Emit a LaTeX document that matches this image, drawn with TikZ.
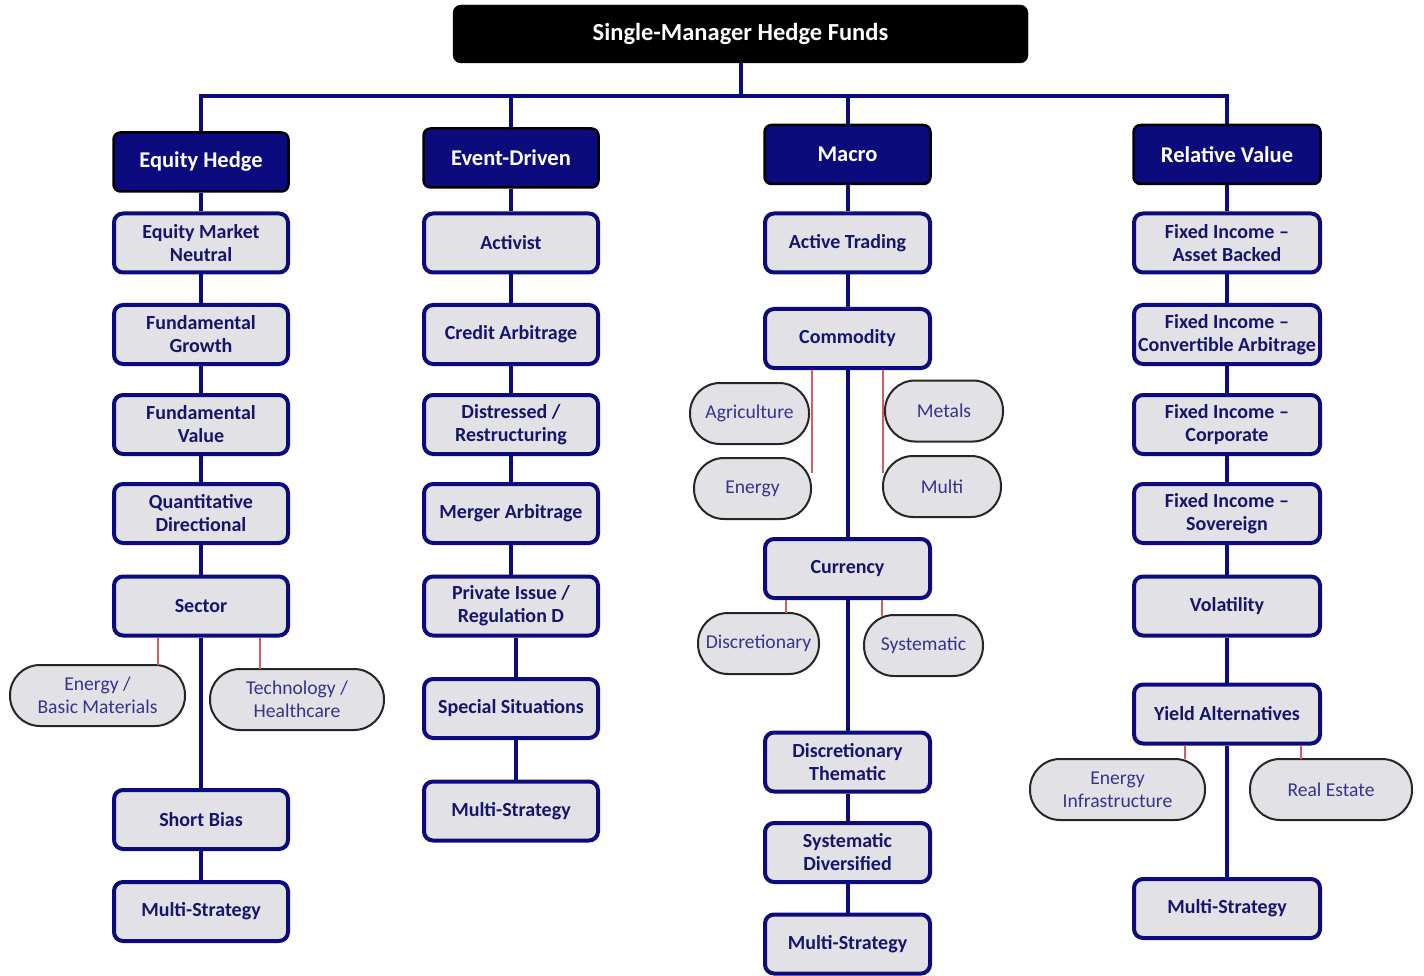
\documentclass[tikz,border=0pt]{standalone}
\usepackage{fontspec}
\setmainfont{Carlito}
\definecolor{navy}{HTML}{0B0B7E}
\definecolor{boxgray}{HTML}{E1E1E6}
\definecolor{txtnavy}{HTML}{15156E}
\definecolor{ovtxt}{HTML}{34348E}
\definecolor{redline}{HTML}{D06060}
\begin{document}
\begin{tikzpicture}[x=1pt,y=-1pt,
 topbox/.style={fill=black, rounded corners=8, draw=black, text=white, font=\bfseries\fontsize{24.5}{28}\selectfont, minimum width=575, minimum height=58, inner sep=0},
 hdr/.style={fill=navy, draw=black, line width=2.5, rounded corners=7, text=white, font=\bfseries\fontsize{22.5}{26}\selectfont, minimum height=59, inner sep=0, align=center},
 sub/.style={fill=boxgray, draw=navy, line width=4, rounded corners=9, text=txtnavy, font=\bfseries\fontsize{20}{23}\selectfont, minimum height=59, inner sep=0, align=center},
 oval/.style={fill=boxgray, draw=black!85, line width=2, rounded corners=30, text=ovtxt, font=\fontsize{19.6}{23}\selectfont, minimum height=61, inner sep=0, align=center},
 cA/.style={sub, minimum width=174},
 cB/.style={sub, minimum width=174},
 cC/.style={sub, minimum width=165},
 cD/.style={sub, minimum width=186},
 conn/.style={draw=navy, line width=4, line join=miter},
 redc/.style={draw=redline, line width=1.5}]
\useasboundingbox (0,0) rectangle (1424,976);
\fill[white] (0,0) rectangle (1424,976);

% root and headers
\node[topbox] (root) at (740.5,34) {Single-Manager Hedge Funds};
\node[hdr, minimum width=175] (eh) at (201,162) {Equity Hedge};
\node[hdr, minimum width=175] (ed) at (511,158) {Event-Driven};
\node[hdr, minimum width=166] (ma) at (847.5,154.5) {Macro};
\node[hdr, minimum width=187] (rv) at (1227,154.5) {Relative Value};

% column 1
\node[cA] (a1) at (201,243) {Equity Market\\Neutral};
\node[cA] (a2) at (201,334.5) {Fundamental\\Growth};
\node[cA] (a3) at (201,424.5) {Fundamental\\Value};
\node[cA] (a4) at (201,513.5) {Quantitative\\Directional};
\node[cA] (a5) at (201,606) {Sector};
\node[cA] (a6) at (201,819.5) {Short Bias};
\node[cA] (a7) at (201,911.5) {Multi-Strategy};
\node[oval, minimum width=175] (ebm) at (97.5,695.5) {Energy /\\Basic Materials};
\node[oval, minimum width=174] (th) at (297,699.5) {Technology /\\Healthcare};

% column 2
\node[cB] (b1) at (511,243) {Activist};
\node[cB] (b2) at (511,334.5) {Credit Arbitrage};
\node[cB] (b3) at (511,424.5) {Distressed /\\Restructuring};
\node[cB] (b4) at (511,513.5) {Merger Arbitrage};
\node[cB] (b5) at (511,606) {Private Issue /\\Regulation D};
\node[cB] (b6) at (511,708.5) {Special Situations};
\node[cB] (b7) at (511,811) {Multi-Strategy};

% column 3
\node[cC] (m1) at (847.5,243) {Active Trading};
\node[cC] (m2) at (847.5,338.5) {Commodity};
\node[oval, minimum width=119] (agr) at (749.5,413.5) {Agriculture};
\node[oval, minimum width=117] (ene) at (752.5,488.5) {Energy};
\node[oval, minimum width=118] (met) at (944,411) {Metals};
\node[oval, minimum width=118] (mul) at (942,486.5) {Multi};
\node[cC] (m3) at (847.5,568.5) {Currency};
\node[oval, minimum width=121] (dis) at (758.5,643.5) {Discretionary};
\node[oval, minimum width=119] (sys) at (923.5,645.5) {Systematic};
\node[cC] (m4) at (847.5,762) {Discretionary\\Thematic};
\node[cC] (m5) at (847.5,852.5) {Systematic\\Diversified};
\node[cC] (m6) at (847.5,944) {Multi-Strategy};

% column 4
\node[cD] (r1) at (1227,243) {Fixed Income --\\Asset Backed};
\node[cD] (r2) at (1227,334.5) {Fixed Income --\\Convertible Arbitrage};
\node[cD] (r3) at (1227,424.5) {Fixed Income --\\Corporate};
\node[cD] (r4) at (1227,513.5) {Fixed Income --\\Sovereign};
\node[cD] (r5) at (1227,606) {Volatility};
\node[cD] (r6) at (1227,714) {Yield Alternatives};
\node[oval, minimum width=175] (ei) at (1117.5,789.5) {Energy\\Infrastructure};
\node[oval, minimum width=162] (re) at (1331,789.5) {Real Estate};
\node[cD] (r7) at (1227,908.5) {Multi-Strategy};

% bus
\coordinate (j0) at (740.5,96);
\draw[conn] (root.south) -- (j0);
\draw[conn] (eh.north) -- (eh.north |- j0) -- (rv.north |- j0) -- (rv.north);
\draw[conn] (ed.north) -- (ed.north |- j0);
\draw[conn] (ma.north) -- (ma.north |- j0);

% vertical connectors
\draw[conn] (eh.south) -- (a1.north);
\draw[conn] (a1.south) -- (a2.north);
\draw[conn] (a2.south) -- (a3.north);
\draw[conn] (a3.south) -- (a4.north);
\draw[conn] (a4.south) -- (a5.north);
\draw[conn] (a5.south) -- (a6.north);
\draw[conn] (a6.south) -- (a7.north);

\coordinate (bx) at (516,0);
\draw[conn] (ed.south) -- (b1.north);
\draw[conn] (b1.south) -- (b2.north);
\draw[conn] (b2.south) -- (b3.north);
\draw[conn] (b3.south) -- (b4.north);
\draw[conn] (b4.south) -- (b5.north);
\draw[conn] (b5.south -| bx) -- (b6.north -| bx);
\draw[conn] (b6.south -| bx) -- (b7.north -| bx);

\draw[conn] (ma.south) -- (m1.north);
\draw[conn] (m1.south) -- (m2.north);
\draw[conn] (m2.south) -- (m3.north);
\draw[conn] (m3.south) -- (m4.north);
\draw[conn] (m4.south) -- (m5.north);
\draw[conn] (m5.south) -- (m6.north);

\draw[conn] (rv.south) -- (r1.north);
\draw[conn] (r1.south) -- (r2.north);
\draw[conn] (r2.south) -- (r3.north);
\draw[conn] (r3.south) -- (r4.north);
\draw[conn] (r4.south) -- (r5.north);
\draw[conn] (r5.south) -- (r6.north);
\draw[conn] (r6.south) -- (r7.north);

% red sub-category links
\coordinate (s1) at (158,665);
\coordinate (s2) at (260,669);
\coordinate (c1) at (812,473);
\coordinate (c2) at (883,473);
\coordinate (u1) at (786,613);
\coordinate (u2) at (882,616);
\coordinate (y1) at (1185,759);
\coordinate (y2) at (1301,759);
\draw[redc] (a5.south -| s1) -- (s1);
\draw[redc] (a5.south -| s2) -- (s2);
\draw[redc] (m2.south -| c1) -- (c1);
\draw[redc] (m2.south -| c2) -- (c2);
\draw[redc] (m3.south -| u1) -- (u1);
\draw[redc] (m3.south -| u2) -- (u2);
\draw[redc] (r6.south -| y1) -- (y1);
\draw[redc] (r6.south -| y2) -- (y2);
\end{tikzpicture}
\end{document}
